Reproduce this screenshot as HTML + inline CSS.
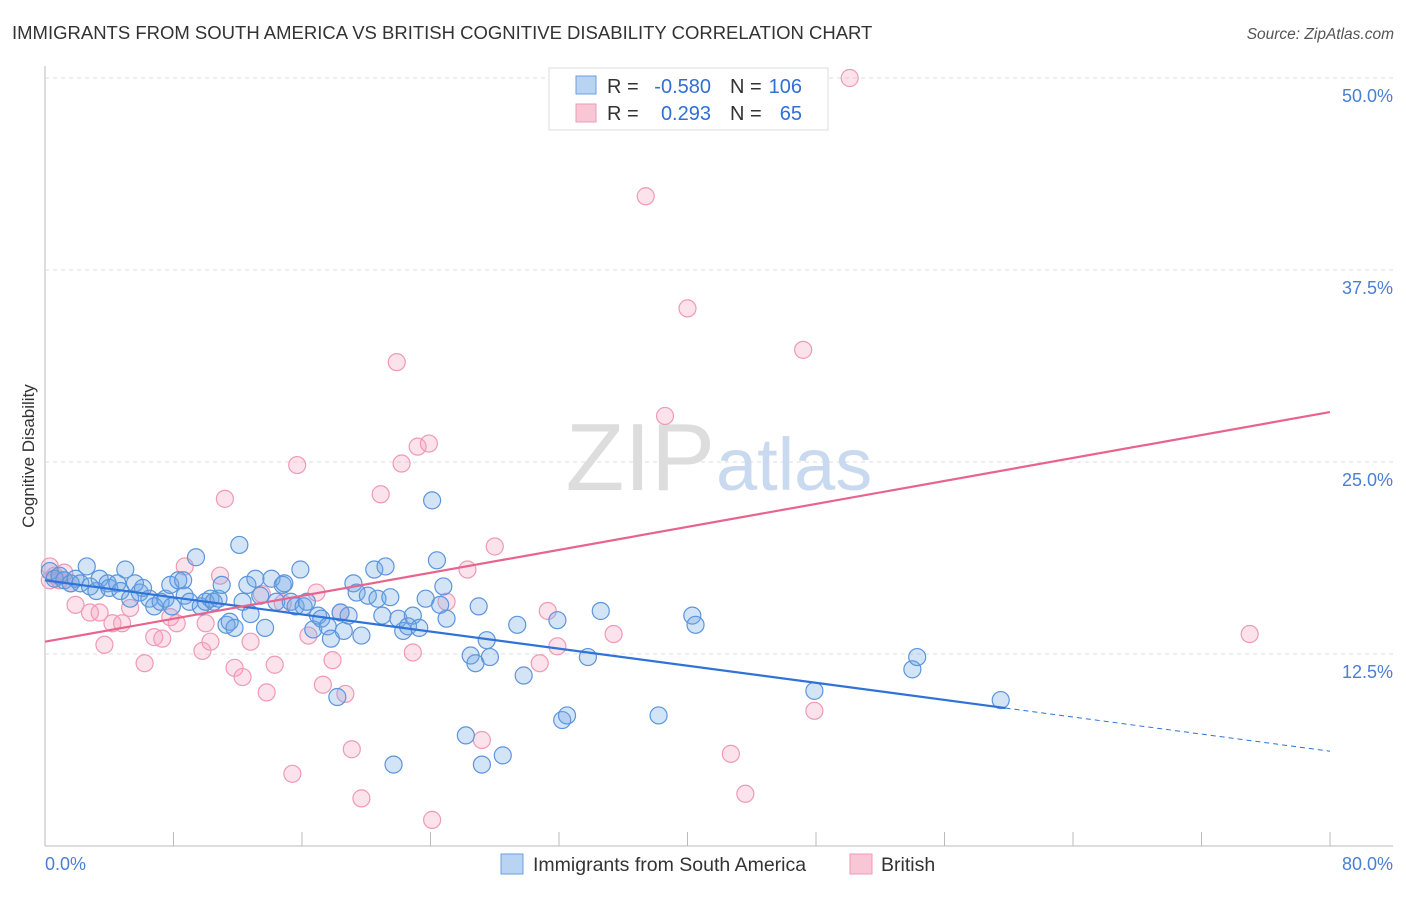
<!DOCTYPE html>
<html><head><meta charset="utf-8"><style>
body{margin:0;background:#fff;font-family:"Liberation Sans",sans-serif;}
svg text{font-family:"Liberation Sans",sans-serif;}
</style></head><body>
<svg width="1406" height="892" viewBox="0 0 1406 892">
<text x="12" y="39" font-size="18.5" fill="#333">IMMIGRANTS FROM SOUTH AMERICA VS BRITISH COGNITIVE DISABILITY CORRELATION CHART</text>
<text x="1394" y="39" font-size="15.5" fill="#555" font-style="italic" text-anchor="end">Source: ZipAtlas.com</text>
<g id="grid"></g>
<text x="715" y="490" font-size="96" fill="#ddd" font-family="Liberation Serif" text-anchor="end">ZIP</text>
<text x="716" y="490" font-size="74" fill="#c9daf0">atlas</text>
<g id="pts"></g>
<g id="lines"></g>
<text transform="translate(34,456) rotate(-90)" font-size="17" fill="#333" text-anchor="middle">Cognitive Disability</text>
<text x="45" y="870" font-size="18" fill="#4a7fd4">0.0%</text>
<text x="1393" y="870" font-size="18" fill="#4a7fd4" text-anchor="end">80.0%</text>
<g>
<rect x="549" y="68" width="279" height="62" fill="#fff" stroke="#ddd"/>
<rect x="576" y="76" width="20" height="18" fill="#b9d3f3" stroke="#6a9fe0"/>
<rect x="576" y="104" width="20" height="18" fill="#f9c6d6" stroke="#ef9ab5"/>
<text x="607" y="93" font-size="20" fill="#333">R =</text>
<text x="711" y="93" font-size="20" fill="#2f6fd6" text-anchor="end">-0.580</text>
<text x="730" y="93" font-size="20" fill="#333">N =</text>
<text x="802" y="93" font-size="20" fill="#2f6fd6" text-anchor="end">106</text>
<text x="607" y="120" font-size="20" fill="#333">R =</text>
<text x="711" y="120" font-size="20" fill="#2f6fd6" text-anchor="end">0.293</text>
<text x="730" y="120" font-size="20" fill="#333">N =</text>
<text x="802" y="120" font-size="20" fill="#2f6fd6" text-anchor="end">65</text>
</g>
<g>
<rect x="501" y="854" width="22" height="20" fill="#b9d3f3" stroke="#6a9fe0"/>
<text x="533" y="871" font-size="19.5" fill="#333">Immigrants from South America</text>
<rect x="850" y="854" width="22" height="20" fill="#f9c6d6" stroke="#ef9ab5"/>
<text x="881" y="871" font-size="19.5" fill="#333">British</text>
</g>
</svg>
<script>
const yTicks=[12.5,25,37.5,50];
const yTickLabels=["12.5%","25.0%","37.5%","50.0%"];
const xTicks=[0,8,16,24,32,40,48,56,64,72,80];
const blueX=[0.3,0.6,0.9,1.2,1.6,1.9,2.2,2.6,2.8,3.2,3.4,3.9,4.0,4.5,4.7,5.0,5.3,5.6,5.9,6.1,6.5,6.8,7.2,7.5,7.8,7.9,8.3,8.6,8.7,9.0,9.4,9.7,10.0,10.3,10.5,10.8,11.0,11.3,11.5,11.8,12.1,12.3,12.6,12.8,13.1,13.4,13.7,14.1,14.4,14.8,14.9,15.3,15.6,15.9,16.1,16.3,16.7,17.0,17.2,17.6,17.8,18.2,18.4,18.6,18.9,19.2,19.4,19.7,20.1,20.5,20.7,21.0,21.2,21.5,21.7,22.0,22.3,22.6,22.9,23.3,23.7,24.1,24.4,24.6,24.8,25.0,26.2,26.5,26.8,27.0,27.2,27.5,27.7,28.5,29.4,29.8,31.9,32.2,32.5,33.8,34.6,38.2,40.3,40.5,47.9,54.0,54.3,59.5];
const blueY=[17.9,17.4,17.6,17.3,17.1,17.4,17.1,18.2,16.9,16.6,17.4,17.1,16.8,17.1,16.6,18.0,16.1,17.1,16.5,16.8,16.1,15.6,15.9,16.1,17.0,15.6,17.3,17.3,16.3,15.9,18.8,15.6,15.9,16.1,15.9,16.1,17.0,14.4,14.6,14.2,19.6,15.9,17.0,15.1,17.4,16.3,14.2,17.4,15.9,17.0,17.1,15.9,15.6,18.0,15.6,15.9,14.1,15.0,14.8,14.3,13.5,9.7,15.2,14.0,15.0,17.1,16.5,13.7,16.3,18.0,16.1,15.0,18.2,16.2,5.3,14.8,14.0,14.3,15.0,14.2,16.1,22.5,18.6,15.7,16.9,14.8,7.2,12.4,11.9,15.6,5.3,13.4,12.3,5.9,14.4,11.1,14.7,8.2,8.5,12.3,15.3,8.5,15.0,14.4,10.1,11.5,12.3,9.5];
const pinkX=[0.3,0.6,0.9,1.6,1.9,2.8,3.4,3.7,4.2,4.8,5.3,6.2,6.8,7.3,7.8,8.2,8.7,9.8,10.0,10.3,10.9,11.2,11.8,12.3,12.8,13.5,13.8,14.3,14.8,15.4,15.7,16.4,16.9,17.3,17.9,18.4,18.7,19.1,19.7,20.9,21.9,22.2,22.9,23.2,23.9,24.1,25.0,26.3,27.2,28.0,30.8,31.3,31.9,35.4,37.4,38.6,40.0,42.7,43.6,47.2,47.9,50.1,75.0,0.3,1.2];
const pinkY=[18.2,17.6,17.3,17.1,15.7,15.2,15.2,13.1,14.5,14.5,15.5,11.9,13.6,13.5,14.9,14.5,18.2,12.7,14.5,13.3,17.6,22.6,11.6,11.0,13.3,16.4,10.0,11.8,15.8,4.7,24.8,13.7,16.5,10.5,12.1,15.2,9.9,6.3,3.1,22.9,31.5,24.9,12.6,26.0,26.2,1.7,15.9,18.0,6.9,19.5,11.9,15.3,13.0,13.8,42.3,28.0,35.0,6.0,3.4,32.3,8.8,50.0,13.8,17.3,17.8];
const X0=45,X1=1330,Y0=846,PXPCT=768/50;
const sx=v=>X0+(v/80)*(X1-X0), sy=v=>Y0-v*PXPCT;
const NS="http://www.w3.org/2000/svg";
function mk(tag,attrs,parent){const e=document.createElementNS(NS,tag);for(const k in attrs)e.setAttribute(k,attrs[k]);parent.appendChild(e);return e;}
const grid=document.getElementById('grid');
let ax=mk('line',{x1:X0,y1:66,x2:X0,y2:Y0,stroke:'#bbb'},grid);


let bx=mk('line',{x1:X0,y1:Y0,x2:1393,y2:Y0,stroke:'#bbb'},grid);


yTicks.forEach((t,i)=>{
 const g=mk('line',{x1:X0,y1:sy(t),x2:1393,y2:sy(t),stroke:'#ddd','stroke-dasharray':'4,4'},grid);
 
 
 const tx=mk('text',{x:1393,y:sy(t)+24,'font-size':18,fill:'#4a7fd4','text-anchor':'end'},grid);
 tx.textContent=yTickLabels[i];
 
 
});
xTicks.forEach(t=>{
 const l=mk('line',{x1:sx(t),y1:832,x2:sx(t),y2:Y0,stroke:'#bbb'},grid);
 
 
});
const pts=document.getElementById('pts');
pinkX.forEach((v,i)=>{
 const c=mk('circle',{cx:sx(v),cy:sy(pinkY[i]),r:8.5,fill:'rgba(244,160,190,0.3)',stroke:'#ef9ab5','stroke-width':1.2},pts);
 
 
});
blueX.forEach((v,i)=>{
 const c=mk('circle',{cx:sx(v),cy:sy(blueY[i]),r:8.5,fill:'rgba(110,165,230,0.3)',stroke:'#5b95dd','stroke-width':1.2},pts);
 
 
});
const blueA=17.3,blueB=-0.1391,pinkA=13.3,pinkB=0.1869;
const lines=document.getElementById('lines');
let l1=mk('line',{x1:sx(0),y1:sy(blueA),x2:sx(59.8),y2:sy(blueA+blueB*59.8),stroke:'#2f72d8','stroke-width':2.2},lines);


let l2=mk('line',{x1:sx(59.8),y1:sy(blueA+blueB*59.8),x2:sx(80),y2:sy(blueA+blueB*80),stroke:'#2f72d8','stroke-width':1,'stroke-dasharray':'5,4'},lines);


let l3=mk('line',{x1:sx(0),y1:sy(pinkA),x2:sx(80),y2:sy(pinkA+pinkB*80),stroke:'#e8648e','stroke-width':2.2},lines);


</script>
</body></html>
